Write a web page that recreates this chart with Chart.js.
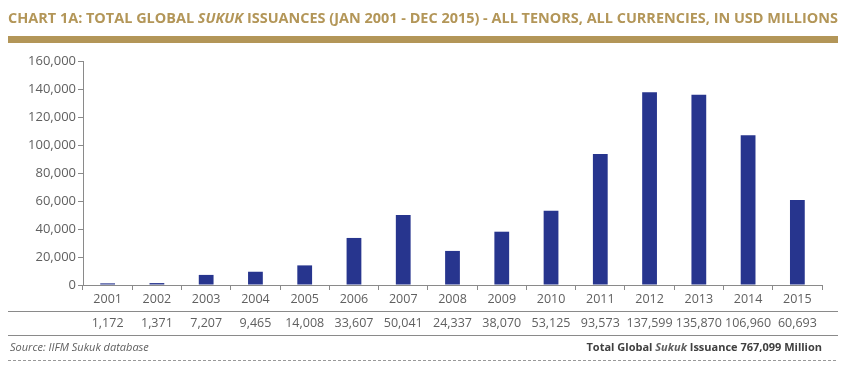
<!DOCTYPE html>
<html>
<head>
<meta charset="utf-8">
<script src="https://cdn.jsdelivr.net/npm/chart.js@4"></script>
<style>
  html, body { margin: 0; padding: 0; background: #fff; }
  #wrap { width: 848px; height: 368px; position: relative; }
</style>
</head>
<body>
<div id="wrap"><canvas id="chartvas" width="848" height="368"></canvas></div>
<script>
'use strict';

// chart data
const years = ['2001', '2002', '2003', '2004', '2005', '2006', '2007', '2008',
  '2009', '2010', '2011', '2012', '2013', '2014', '2015'];
const issuance = [1172, 1371, 7207, 9465, 14008, 33607, 50041, 24337,
  38070, 53125, 93573, 137599, 135870, 106960, 60693];
const yTicks = [0, 20000, 40000, 60000, 80000, 100000, 120000, 140000, 160000];
const titleParts = [
  { text: 'CHART 1A: TOTAL GLOBAL ', italic: false },
  { text: 'SUKUK', italic: true },
  { text: ' ISSUANCES (JAN 2001 - DEC 2015) - ALL TENORS, ALL CURRENCIES, IN USD MILLIONS', italic: false }
];
const sourceText = 'Source: IIFM Sukuk database';
const totalParts = [
  { text: 'Total Global ', italic: false },
  { text: 'Sukuk', italic: true },
  { text: ' Issuance 767,099 Million', italic: false }
];

const gold = '#b39658';
const navy = '#27358e';
const grey = '#606060';
const lineGrey = '#8a8a8a';
const FONT = '"Open Sans", Lato, sans-serif';

const fmt = n => n.toLocaleString('en-US');

// ---- draws title, table row and footer around the plot ----
const decorations = {
  id: 'decorations',
  afterDraw(chart) {
    const ctx = chart.ctx;
    const x = chart.scales.x;
    ctx.save();

    // title, squeezed to fit the gold bar width
    const titleFont = it => `${it ? 'italic ' : ''}bold 15px ${FONT}`;
    let w = 0;
    titleParts.forEach(p => { ctx.font = titleFont(p.italic); w += ctx.measureText(p.text).width; });
    const sx = 830 / w;
    ctx.save();
    ctx.translate(8, 19);
    ctx.scale(sx, 1);
    ctx.fillStyle = gold;
    ctx.textBaseline = 'middle';
    let cx = 0;
    titleParts.forEach(p => {
      ctx.font = titleFont(p.italic);
      ctx.fillText(p.text, cx, 0);
      cx += ctx.measureText(p.text).width;
    });
    ctx.restore();

    ctx.fillStyle = gold;
    ctx.fillRect(8, 36, 830, 7);

    // table lines
    ctx.strokeStyle = lineGrey;
    ctx.lineWidth = 1;
    [311.5, 335.5].forEach(y => {
      ctx.beginPath();
      ctx.moveTo(8, y);
      ctx.lineTo(838, y);
      ctx.stroke();
    });

    // values row
    ctx.fillStyle = grey;
    ctx.font = `12.5px ${FONT}`;
    ctx.textAlign = 'center';
    ctx.textBaseline = 'middle';
    issuance.forEach((v, i) => {
      ctx.fillText(fmt(v), x.getPixelForValue(i), 323);
    });

    // footer
    ctx.textAlign = 'left';
    ctx.font = `italic 11px ${FONT}`;
    ctx.fillText(sourceText, 10, 348);

    const totFont = it => `${it ? 'italic ' : ''}bold 11px ${FONT}`;
    let tw = 0;
    totalParts.forEach(p => { ctx.font = totFont(p.italic); tw += ctx.measureText(p.text).width; });
    let tx = 822 - tw;
    totalParts.forEach(p => {
      ctx.font = totFont(p.italic);
      ctx.fillStyle = p.italic ? grey : '#404040';
      ctx.fillText(p.text, tx, 348);
      tx += ctx.measureText(p.text).width;
    });

    ctx.setLineDash([3, 2]);
    ctx.strokeStyle = '#999';
    ctx.beginPath();
    ctx.moveTo(8, 360.5);
    ctx.lineTo(838, 360.5);
    ctx.stroke();

    ctx.restore();
  }
};

const myChart = new Chart(document.getElementById('chartvas'), {
  type: 'bar',
  data: {
    labels: years,
    datasets: [{
      label: 'Issuance',
      data: issuance,
      backgroundColor: navy,
      categoryPercentage: 1,
      barPercentage: 0.3
    }]
  },
  options: {
    responsive: false,
    animation: false,
    layout: { padding: { top: 61, right: 26, left: 0, bottom: 0 } },
    plugins: { legend: { display: false }, tooltip: { enabled: false } },
    scales: {
      x: {
        offset: true,
        grid: { offset: true, drawOnChartArea: false, drawTicks: true, tickLength: 5, color: lineGrey },
        border: { color: lineGrey },
        ticks: { color: grey, font: { family: FONT, size: 12.5 }, padding: 2, maxRotation: 0 },
        afterFit: s => { s.height = 368 - 61 - 224; }
      },
      y: {
        min: 0,
        max: 160000,
        afterBuildTicks: s => { s.ticks = yTicks.map(v => ({ value: v })); },
        grid: { drawOnChartArea: false, drawTicks: true, tickLength: 5, color: lineGrey },
        border: { color: lineGrey },
        ticks: { color: grey, font: { family: FONT, size: 13 }, padding: 2, callback: v => fmt(v) },
        afterFit: s => { s.width = 83; }
      }
    }
  },
  plugins: [decorations]
});
</script>
</body>
</html>
